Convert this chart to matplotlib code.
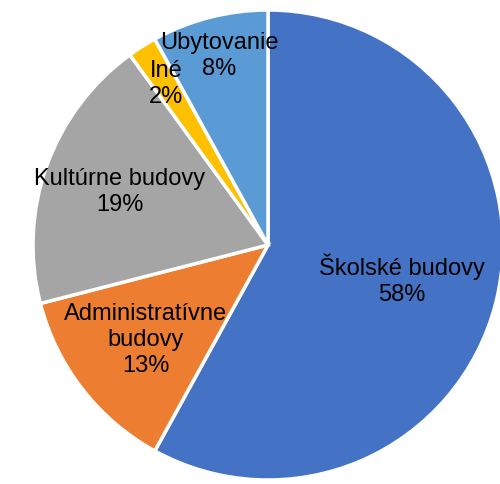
import matplotlib.pyplot as plt
import numpy as np

plt.rcParams['font.family'] = ['Liberation Sans', 'DejaVu Sans']

# Data
labels = ['Školské budovy', 'Administratívne\nbudovy', 'Kultúrne budovy', 'Iné', 'Ubytovanie']
shares = [58, 13, 19, 2, 8]
colors = ['#4472C4', '#ED7D31', '#A5A5A5', '#FFC000', '#5B9BD5']
label_radius = [0.59, 0.66, 0.67, 0.81, 0.83]

fig = plt.figure(figsize=(5, 4.84), dpi=100)
ax = fig.add_axes([33 / 500, 4 / 484, 470 / 500, 470 / 484])

wedges, _ = ax.pie(shares, colors=colors, startangle=90, counterclock=False,
                   radius=1, wedgeprops=dict(edgecolor='white', linewidth=2.5))

total = sum(shares)
cum = 0
for lab, val, r in zip(labels, shares, label_radius):
    mid = cum + val / 2
    cum += val
    ang = np.deg2rad(90 - 360 * mid / total)
    ax.text(r * np.cos(ang), r * np.sin(ang), f'{lab}\n{val}%',
            ha='center', va='center', fontsize=17, linespacing=1.25)

ax.set_xlim(-1, 1)
ax.set_ylim(-1, 1)
ax.set_aspect('equal')
ax.axis('off')

fig.savefig('out.png', dpi=100)
